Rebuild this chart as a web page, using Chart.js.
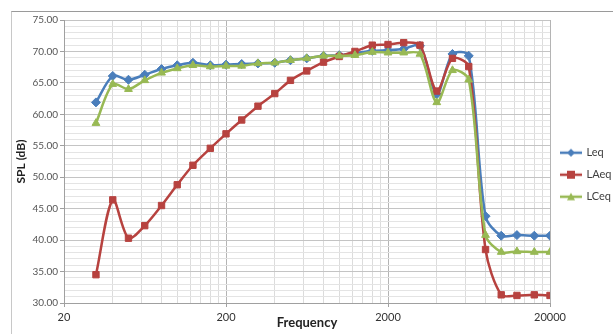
<!DOCTYPE html>
<html>
<head>
<meta charset="utf-8">
<script src="https://cdn.jsdelivr.net/npm/chart.js@4"></script>
<style>
  html, body { margin: 0; padding: 0; background: #fff; }
  body { position: relative; width: 613px; height: 334px; overflow: hidden; }
  #frame { position: absolute; left: 11px; top: 11px; width: 700px; height: 400px;
           border-top: 1px solid #9a9a9a; border-left: 1px solid #c8c8c8; }
  #spl { position: absolute; left: 0; top: 0; }
</style>
</head>
<body>
<div id="frame"></div>
<canvas id="spl" width="613" height="334"></canvas>
<script>
const freqs = [31.5, 40, 50, 63, 80, 100, 125, 160, 200, 250, 315, 400, 500, 630, 800, 1000,
               1250, 1600, 2000, 2500, 3150, 4000, 5000, 6300, 8000, 10000, 12500, 16000, 20000];
const leq  = [61.9, 66.1, 65.5, 66.3, 67.2, 67.8, 68.2, 67.8, 67.9, 68.0, 68.1, 68.2, 68.6, 68.9, 69.3, 69.4,
              69.7, 70.1, 70.2, 70.4, 70.9, 63.2, 69.6, 69.3, 43.8, 40.7, 40.8, 40.7, 40.7];
const laeq = [34.5, 46.4, 40.3, 42.3, 45.5, 48.8, 51.9, 54.6, 56.9, 59.1, 61.3, 63.3, 65.4, 66.9, 68.3, 69.2,
              70.0, 71.0, 71.1, 71.4, 71.0, 63.7, 68.9, 67.6, 38.5, 31.3, 31.2, 31.3, 31.2];
const lceq = [58.6, 64.8, 64.0, 65.4, 66.6, 67.3, 67.8, 67.6, 67.7, 67.7, 68.1, 68.2, 68.6, 68.9, 69.3, 69.3,
              69.4, 69.9, 69.8, 69.8, 69.6, 61.9, 67.0, 65.5, 40.8, 38.1, 38.2, 38.1, 38.1];
const xLabels = [20, 200, 2000, 20000];

Chart.defaults.font.family = 'Lato, "Open Sans", sans-serif';

const colors = { leq: '#4a7ebb', laeq: '#b7423f', lceq: '#98b954' };

// little line+marker icon for the legend, like excel does it
function legendIcon(color, shape) {
  const c = document.createElement('canvas');
  c.width = 22; c.height = 10;
  const g = c.getContext('2d');
  g.strokeStyle = color; g.fillStyle = color; g.lineWidth = 2.5;
  g.beginPath(); g.moveTo(0, 5); g.lineTo(22, 5); g.stroke();
  g.beginPath();
  if (shape === 'rect') g.rect(7, 1, 8, 8);
  else if (shape === 'rectRot') { g.moveTo(11, 1); g.lineTo(15, 5); g.lineTo(11, 9); g.lineTo(7, 5); g.closePath(); }
  else { g.moveTo(11, 1); g.lineTo(15, 8.5); g.lineTo(7, 8.5); g.closePath(); }
  g.fill();
  return c;
}
const icons = [legendIcon(colors.leq, 'rectRot'), legendIcon(colors.laeq, 'rect'), legendIcon(colors.lceq, 'triangle')];

function series(label, vals, color, style, r, order) {
  return {
    label: label,
    data: freqs.map((f, i) => ({ x: f, y: vals[i] })),
    borderColor: color,
    backgroundColor: color,
    borderWidth: 2.5,
    pointStyle: style,
    pointRadius: r,
    pointBorderWidth: 1,
    tension: 0.3,
    fill: false,
    order: order
  };
}

const majorX = v => xLabels.includes(Math.round(v));

new Chart(document.getElementById('spl'), {
  type: 'line',
  data: {
    datasets: [
      series('Leq', leq, colors.leq, 'rectRot', 4.5, 3),
      series('LAeq', laeq, colors.laeq, 'rect', 4.5, 2),
      series('LCeq', lceq, colors.lceq, 'triangle', 4.5, 1)
    ]
  },
  options: {
    responsive: false,
    animation: false,
    layout: { padding: { top: 20, left: 0, right: 0, bottom: 0 } },
    plugins: {
      tooltip: { enabled: false },
      legend: {
        position: 'right',
        align: 'start',
        maxWidth: 63,
        title: { display: true, text: ' ', font: { size: 11 }, padding: { top: 103, bottom: 0 } },
        labels: {
          usePointStyle: true,
          pointStyleWidth: 20,
          padding: 11,
          color: '#404040',
          font: { size: 11 },
          sort: (a, b) => a.datasetIndex - b.datasetIndex,
          generateLabels(chart) {
            const items = Chart.defaults.plugins.legend.labels.generateLabels(chart);
            items.forEach(it => { it.pointStyle = icons[it.datasetIndex]; });
            return items;
          }
        }
      }
    },
    scales: {
      x: {
        type: 'logarithmic',
        min: 20,
        max: 20000,
        afterBuildTicks(scale) {
          const t = [];
          [20, 200, 2000].forEach(d => { for (let k = 1; k < 10; k++) t.push({ value: d * k }); });
          t.push({ value: 20000 });
          scale.ticks = t;
        },
        afterFit(scale) { scale.height = 31; },
        ticks: {
          autoSkip: false,
          maxRotation: 0,
          padding: 4,
          color: '#333',
          font: { size: 11 },
          callback: v => majorX(v) ? String(Math.round(v)) : ''
        },
        grid: {
          color: c => majorX(c.tick.value) ? '#b4b4b4' : '#dcdcdc',
          tickColor: c => majorX(c.tick.value) ? '#a0a0a0' : 'rgba(0,0,0,0)',
          tickLength: 4
        },
        border: { color: '#a0a0a0' },
        title: { display: true, text: 'Frequency', color: '#222', font: { size: 13, weight: 'bold' }, padding: { top: 0, bottom: 3 } }
      },
      y: {
        min: 30,
        max: 75,
        afterFit(scale) { scale.width = 64; },
        ticks: {
          stepSize: 1,
          autoSkip: false,
          padding: 2,
          color: '#555',
          font: { size: 10 },
          callback: v => v % 5 === 0 ? v.toFixed(2) : ''
        },
        grid: {
          color: c => c.tick.value % 5 === 0 ? '#c4c4c4' : '#e4e4e4',
          tickColor: c => c.tick.value % 5 === 0 ? '#a0a0a0' : 'rgba(0,0,0,0)',
          tickLength: 4
        },
        border: { color: '#a0a0a0' },
        title: { display: true, text: 'SPL (dB)', color: '#222', font: { size: 12, weight: 'bold' }, padding: { top: 14, bottom: 0 } }
      }
    }
  }
});
</script>
</body>
</html>
